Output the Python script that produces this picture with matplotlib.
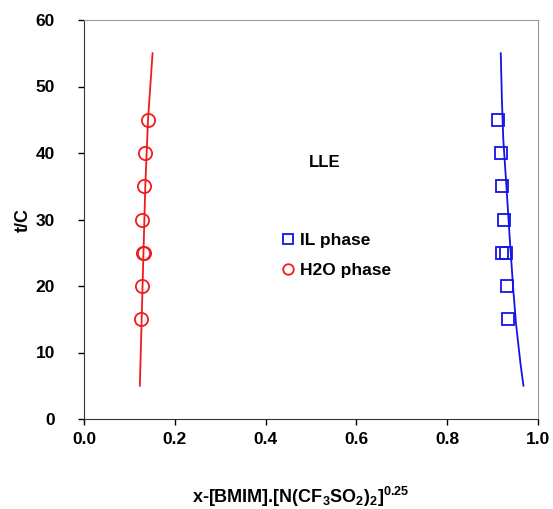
import matplotlib
matplotlib.use("Agg")
import matplotlib.pyplot as plt

plt.rcParams["font.family"] = ["Liberation Sans", "DejaVu Sans"]
plt.rcParams["font.weight"] = "bold"
plt.rcParams["mathtext.fontset"] = "custom"
plt.rcParams["mathtext.rm"] = "Liberation Sans:bold"
plt.rcParams["mathtext.default"] = "rm"

# measured tie-line ends
t_exp = [15, 20, 25, 25, 30, 35, 40, 45]
x_h2o = [0.125, 0.128, 0.129, 0.132, 0.128, 0.132, 0.135, 0.142]
x_il = [0.935, 0.932, 0.920, 0.929, 0.925, 0.921, 0.918, 0.911]

# model curves
t_fit_h2o = [5, 15, 25, 35, 45, 55]
x_h2o_fit = [0.123, 0.127, 0.131, 0.135, 0.141, 0.151]
t_fit_il = [5, 8, 11, 14.4, 19.4, 26.9, 34.4, 42, 48, 55]
x_il_fit = [0.968, 0.962, 0.957, 0.9515, 0.9456, 0.938, 0.931, 0.9236, 0.9205, 0.918]

RED = "#ee1c1c"
BLUE = "#1414e6"

fig = plt.figure(figsize=(5.53, 5.09), dpi=100)
ax = fig.add_axes([84 / 553, 90 / 509, 454 / 553, 399 / 509])

ax.plot(x_h2o_fit, t_fit_h2o, color=RED, lw=1.3)
ax.plot(x_il_fit, t_fit_il, color=BLUE, lw=1.3)
ax.plot(x_il, t_exp, ls="none", marker="s", ms=9, mfc="none", mec=BLUE,
        mew=1.3, label="IL phase")
ax.plot(x_h2o, t_exp, ls="none", marker="o", ms=9.5, mfc="none", mec=RED,
        mew=1.3, label="H2O phase")

ax.set_xlim(0, 1.0)
ax.set_ylim(0, 60)
ax.set_xticks([0.0, 0.2, 0.4, 0.6, 0.8, 1.0])
ax.set_yticks(range(0, 61, 10))
ax.set_xticklabels([f"{v:.1f}" for v in ax.get_xticks()])
ax.tick_params(direction="out", length=4, width=1, labelsize=12.5)
ax.tick_params(axis="x", pad=5)
ax.tick_params(axis="y", pad=17)

for side in ("left", "bottom"):
    ax.spines[side].set_color("#333333")
for side in ("top", "right"):
    ax.spines[side].set_color("#999999")

ax.text(0.53, 38.5, "LLE", fontsize=12, fontweight="bold", ha="center",
        va="center")

leg = ax.legend(loc="upper left", bbox_to_anchor=(0.40, 0.505), frameon=False,
                fontsize=12.5, handlelength=0.8, handletextpad=0.3,
                labelspacing=0.85, markerscale=0.8)
for txt in leg.get_texts():
    txt.set_fontweight("bold")

ax.set_ylabel("t/C", fontsize=13, fontweight="bold", labelpad=3)
ax.set_xlabel("x-[BMIM].[N(CF$_3$SO$_2$)$_2$]$^{0.25}$", fontsize=13,
              fontweight="bold", labelpad=28)
ax.xaxis.label.set_x(0.478)

fig.savefig("out.png", dpi=100, facecolor="white")
